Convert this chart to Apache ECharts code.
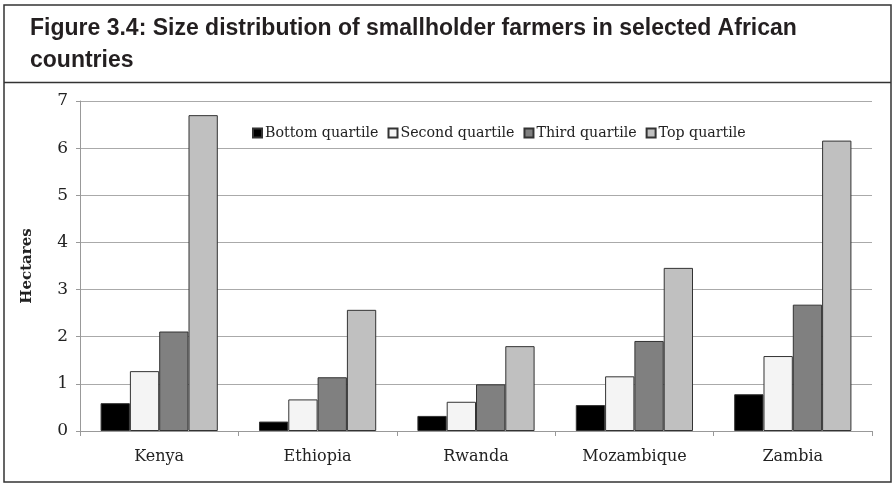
<!DOCTYPE html>
<html>
<head>
<meta charset="utf-8">
<script src="https://cdn.jsdelivr.net/npm/echarts@6/dist/echarts.min.js"></script>
<style>
html,body{margin:0;padding:0;background:#fff;}
#c{width:893px;height:484px;}
</style>
</head>
<body>
<div id="c"></div>
<script>
const categories = ['Kenya', 'Ethiopia', 'Rwanda', 'Mozambique', 'Zambia'];
const seriesNames = ['Bottom quartile', 'Second quartile', 'Third quartile', 'Top quartile'];
const bottomQuartile = [0.59, 0.20, 0.32, 0.55, 0.78];
const secondQuartile = [1.27, 0.67, 0.62, 1.16, 1.59];
const thirdQuartile  = [2.11, 1.14, 0.99, 1.91, 2.68];
const topQuartile    = [6.70, 2.57, 1.80, 3.46, 6.16];
const yTicks = [0, 1, 2, 3, 4, 5, 6, 7];
const titleText = 'Figure 3.4: Size distribution of smallholder farmers in selected African\ncountries';
const yAxisName = 'Hectares';

const colors = ['#000000', '#f4f4f4', '#808080', '#c0c0c0'];
const values = [bottomQuartile, secondQuartile, thirdQuartile, topQuartile];
const serif = '"DejaVu Serif", serif';

const chart = echarts.init(document.getElementById('c'), null, {renderer: 'canvas'});
chart.setOption({
  animation: false,
  backgroundColor: '#fff',
  title: {
    text: titleText,
    left: 25,
    top: 8,
    textStyle: {
      fontFamily: '"Liberation Sans", sans-serif',
      fontWeight: 'bold',
      fontSize: 23,
      lineHeight: 32,
      color: '#231f20'
    }
  },
  graphic: [
    {type: 'rect', shape: {x: 4, y: 5, width: 887, height: 477}, style: {fill: 'none', stroke: '#333', lineWidth: 1.5}, z: 100},
    {type: 'line', shape: {x1: 4, y1: 82.5, x2: 891, y2: 82.5}, style: {stroke: '#333', lineWidth: 1.5}, z: 100}
  ],
  legend: {
    data: seriesNames,
    left: 247,
    top: 121,
    icon: 'rect',
    itemWidth: 9,
    itemHeight: 9,
    itemGap: 9,
    textStyle: {fontFamily: serif, fontSize: 14.2, color: '#222', padding: [0, 0, 0, -2]}
  },
  grid: {left: 80, right: 21, top: 101, bottom: 53, containLabel: false},
  xAxis: {
    type: 'category',
    data: categories,
    axisLine: {show: true, lineStyle: {color: '#999', width: 1}},
    axisTick: {show: true, length: 5, lineStyle: {color: '#999'}},
    axisLabel: {fontFamily: serif, fontSize: 16, color: '#222', margin: 18}
  },
  yAxis: {
    type: 'value',
    min: 0,
    max: 7,
    interval: 1,
    name: yAxisName,
    nameLocation: 'middle',
    nameGap: 45,
    nameRotate: 90,
    nameTextStyle: {fontFamily: serif, fontSize: 15, fontWeight: 'bold', color: '#222'},
    axisLine: {show: true, lineStyle: {color: '#999', width: 1}},
    axisTick: {show: true, length: 4, lineStyle: {color: '#999'}},
    axisLabel: {fontFamily: serif, fontSize: 17, color: '#222', margin: 12,
      formatter: v => yTicks.includes(v) ? String(v) : ''},
    splitLine: {show: true, lineStyle: {color: '#aaa', width: 1}}
  },
  series: seriesNames.map((name, i) => ({
    name: name,
    type: 'bar',
    data: values[i],
    barGap: '0%',
    barCategoryGap: '26%',
    itemStyle: {color: colors[i], borderColor: '#333', borderWidth: 1}
  }))
});
</script>
</body>
</html>
